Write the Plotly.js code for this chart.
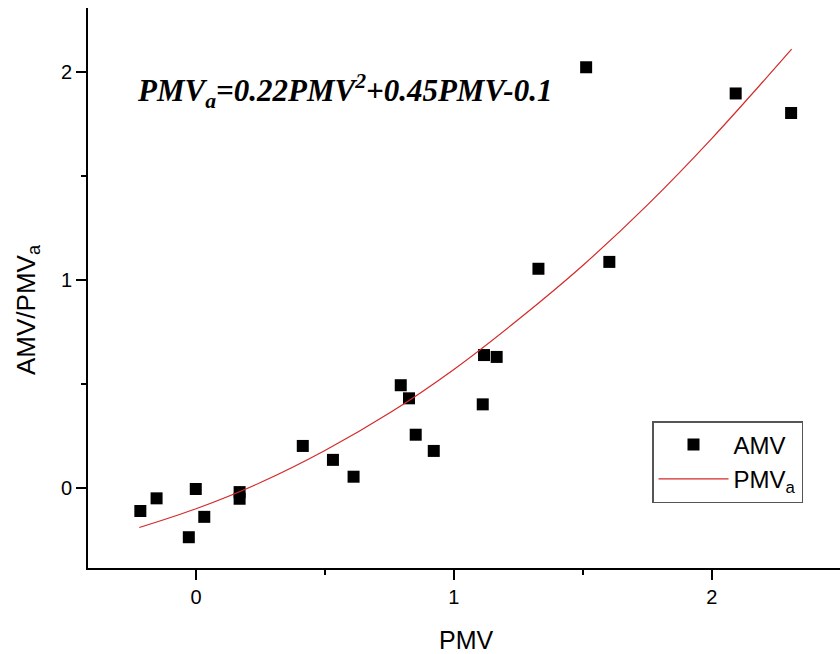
<!DOCTYPE html>
<html>
<head>
<meta charset="utf-8">
<script src="https://cdn.plot.ly/plotly-3.0.1.min.js"></script>
<style>html,body{margin:0;padding:0;background:#fff;}#chart{width:840px;height:654px;}</style>
</head>
<body>
<div id="chart"></div>
<script>
// Measured AMV points
const amvX = [-0.216, -0.153, -0.001, -0.028, 0.032, 0.169, 0.169, 0.414, 0.531, 0.611,
              0.794, 0.826, 0.852, 0.922, 1.117, 1.166, 1.112,
              1.328, 1.513, 1.603, 2.093, 2.308];
const amvY = [-0.111, -0.050, -0.005, -0.237, -0.139, -0.020, -0.052, 0.202, 0.135, 0.054,
              0.494, 0.431, 0.256, 0.178, 0.639, 0.630, 0.402,
              1.054, 2.023, 1.087, 1.897, 1.803];
// Fitted curve PMVa
const fitX = [-0.22, 0, 0.25, 0.5, 0.75, 1.0, 1.25, 1.5, 1.75, 2.0, 2.31];
const fitY = [-0.19, -0.10, 0.026, 0.18, 0.36, 0.57, 0.81, 1.07, 1.36, 1.68, 2.11];

const xTicks = [0, 1, 2];
const yTicks = [0, 1, 2];

const traces = [
  {x: amvX, y: amvY, type: 'scatter', mode: 'markers', name: 'AMV',
   marker: {symbol: 'square', size: 12, color: '#000000'}},
  {x: fitX, y: fitY, type: 'scatter', mode: 'lines', name: 'PMV<sub>a</sub>',
   line: {color: '#d42a2a', width: 1.2, shape: 'spline'}}
];

const axisCommon = {
  showgrid: false, zeroline: false, showline: true, linecolor: '#000', linewidth: 2,
  ticks: 'outside', ticklen: 10, tickwidth: 2, tickcolor: '#000',
  tickfont: {family: 'Liberation Sans, Arial, sans-serif', size: 20, color: '#000'},
  mirror: false
};

const layout = {
  width: 840, height: 654,
  margin: {l: 88, r: 0, t: 8, b: 86},
  paper_bgcolor: '#fff', plot_bgcolor: '#fff',
  font: {family: 'Liberation Sans, Arial, sans-serif', color: '#000'},
  xaxis: Object.assign({}, axisCommon, {
    range: [-0.419, 2.4976], tickvals: xTicks, ticktext: xTicks.map(String),
    minor: {dtick: 0.5, tick0: 0, ticks: 'outside', ticklen: 5, tickwidth: 2, tickcolor: '#000'}
  }),
  yaxis: Object.assign({}, axisCommon, {
    range: [-0.385, 2.308], tickvals: yTicks, ticktext: yTicks.map(String),
    minor: {dtick: 0.5, tick0: 0, ticks: 'outside', ticklen: 5, tickwidth: 2, tickcolor: '#000'}
  }),
  showlegend: true,
  legend: {
    x: 0.75, y: 0.2625, xanchor: 'left', yanchor: 'top',
    bordercolor: '#555', borderwidth: 1.5, bgcolor: '#fff',
    font: {family: 'Liberation Sans, Arial, sans-serif', size: 24, color: '#000'},
    tracegroupgap: 0, itemwidth: 70
  },
  annotations: [
    {xref: 'paper', yref: 'paper', x: 0.0625, y: 0.852, xanchor: 'left', yanchor: 'middle',
     showarrow: false,
     text: '<b><i>PMV<sub>a</sub>=0.22PMV<sup>2</sup>+0.45PMV-0.1</i></b>',
     font: {family: 'Liberation Serif, Times New Roman, serif', size: 31, color: '#000'}},
    {xref: 'paper', yref: 'paper', x: (466 - 88) / 752, y: (568 - 640) / 560,
     xanchor: 'center', yanchor: 'middle', showarrow: false, text: 'PMV',
     font: {family: 'Liberation Sans, Arial, sans-serif', size: 25, color: '#000'}},
    {xref: 'paper', yref: 'paper', x: (27 - 88) / 752, y: (568 - 310) / 560,
     xanchor: 'center', yanchor: 'middle', showarrow: false, textangle: -90,
     text: 'AMV/PMV<sub>a</sub>',
     font: {family: 'Liberation Sans, Arial, sans-serif', size: 26, color: '#000'}}
  ]
};

Plotly.newPlot('chart', traces, layout, {displayModeBar: false, staticPlot: true});
</script>
</body>
</html>
